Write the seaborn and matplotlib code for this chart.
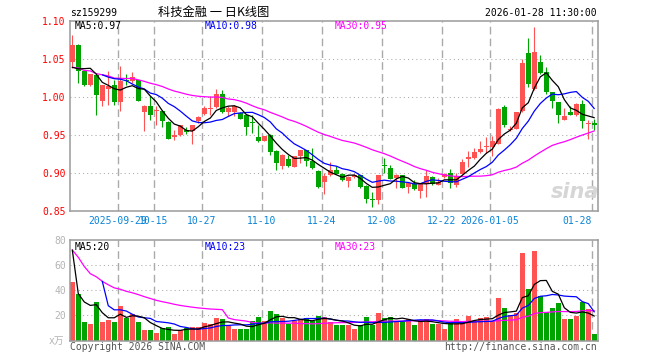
import numpy as np
import pandas as pd
import matplotlib
matplotlib.use("Agg")
import matplotlib.pyplot as plt
import seaborn as sns

# ---------------- data ----------------
tick_labels = ["2025-09-29", "10-15", "10-27", "11-10", "11-24", "12-08", "12-22", "2026-01-05", "01-28"]
tick_index = [8, 14, 22, 32, 42, 52, 62, 70, 87]

open_ = [1.0457, 1.0689, 1.0338, 1.0154, 1.0294, 0.9943, 1.0106, 1.0163, 0.9935, 1.0229,
         1.0215, 1.0224, 0.9803, 0.9886, 0.9816, 0.9820, 0.9671, 0.9470, 0.9505, 0.9570,
         0.9557, 0.9680, 0.9777, 0.9847, 0.9869, 1.0044, 0.9799, 0.9799, 0.9790, 0.9768,
         0.9667, 0.9479, 0.9430, 0.9505, 0.9294, 0.9101, 0.9185, 0.9088, 0.9229, 0.9299,
         0.9163, 0.9031, 0.8890, 0.8978, 0.9040, 0.8996, 0.8900, 0.8948, 0.8978, 0.8838,
         0.8667, 0.8650, 0.9110, 0.9066, 0.8943, 0.8974, 0.8816, 0.8864, 0.8772, 0.8855,
         0.8952, 0.8847, 0.8948, 0.9000, 0.8851, 0.8992, 0.9189, 0.9198, 0.9285, 0.9343,
         0.9351, 0.9386, 0.9873, 0.9562, 0.9584, 0.9812, 1.0584, 1.0106, 1.0465, 1.0334,
         1.0066, 0.9935, 0.9702, 0.9803, 0.9764, 0.9913, 0.9641, 0.9654]
high = [1.0821, 1.0700, 1.0360, 1.0310, 1.0316, 1.0160, 1.0338, 1.0229, 1.0413, 1.0303,
        1.0329, 1.0230, 0.9890, 1.0010, 0.9886, 0.9830, 0.9680, 0.9570, 0.9640, 0.9606,
        0.9640, 0.9750, 0.9886, 1.0018, 1.0110, 1.0097, 0.9886, 0.9890, 0.9800, 0.9770,
        0.9768, 0.9636, 0.9490, 0.9510, 0.9300, 0.9250, 0.9242, 0.9233, 0.9310, 0.9310,
        0.9330, 0.9049, 0.9009, 0.9154, 0.9097, 0.9000, 0.8960, 0.8990, 0.8980, 0.8840,
        0.8759, 0.8980, 0.9202, 0.9106, 0.8990, 0.8980, 0.8880, 0.8913, 0.8870, 0.9049,
        0.8960, 0.8939, 0.9009, 0.9057, 0.9009, 0.9185, 0.9294, 0.9338, 0.9426, 0.9470,
        0.9483, 0.9851, 0.9900, 0.9623, 0.9810, 1.0505, 1.0772, 1.0921, 1.0557, 1.0391,
        1.0070, 0.9940, 0.9856, 0.9878, 0.9926, 0.9965, 0.9702, 0.9711]
low = [1.0382, 1.0185, 1.0141, 1.0150, 0.9768, 0.9886, 0.9900, 0.9900, 0.9812, 1.0163,
       1.0185, 0.9943, 0.9557, 0.9693, 0.9632, 0.9614, 0.9450, 0.9439, 0.9483, 0.9518,
       0.9386, 0.9658, 0.9770, 0.9768, 0.9860, 0.9790, 0.9755, 0.9746, 0.9710, 0.9496,
       0.9527, 0.9404, 0.9420, 0.9242, 0.9036, 0.9057, 0.9084, 0.9080, 0.9141, 0.9101,
       0.9062, 0.8810, 0.8724, 0.8970, 0.8990, 0.8895, 0.8825, 0.8940, 0.8812, 0.8614,
       0.8562, 0.8597, 0.9000, 0.8920, 0.8812, 0.8803, 0.8746, 0.8780, 0.8676, 0.8689,
       0.8850, 0.8840, 0.8940, 0.8803, 0.8825, 0.8990, 0.9088, 0.9190, 0.9272, 0.9263,
       0.9220, 0.9380, 0.9601, 0.9550, 0.9580, 0.9810, 1.0132, 1.0088, 1.0310, 1.0040,
       0.9856, 0.9658, 0.9700, 0.9760, 0.9755, 0.9593, 0.9448, 0.9570]
close = [1.0689, 1.0338, 1.0154, 1.0303, 1.0022, 1.0154, 1.0140, 0.9930, 1.0215, 1.0207,
         1.0259, 0.9952, 0.9886, 0.9768, 0.9825, 0.9680, 0.9452, 0.9505, 0.9632, 0.9544,
         0.9632, 0.9742, 0.9851, 0.9856, 1.0044, 0.9799, 0.9856, 0.9878, 0.9715, 0.9606,
         0.9654, 0.9430, 0.9483, 0.9277, 0.9132, 0.9242, 0.9101, 0.9220, 0.9299, 0.9167,
         0.9075, 0.8816, 0.8970, 0.9044, 0.8996, 0.8908, 0.8952, 0.8983, 0.8825, 0.8663,
         0.8650, 0.8978, 0.9093, 0.8930, 0.8978, 0.8812, 0.8873, 0.8790, 0.8864, 0.8965,
         0.8855, 0.8890, 0.8992, 0.8868, 0.8961, 0.9154, 0.9207, 0.9277, 0.9320, 0.9351,
         0.9426, 0.9843, 0.9636, 0.9575, 0.9803, 1.0443, 1.0176, 1.0593, 1.0316, 1.0070,
         0.9943, 0.9759, 0.9750, 0.9768, 0.9913, 0.9680, 0.9650, 0.9636]
volume = [46.6, 36.8, 15.0, 13.4, 30.8, 15.0, 16.6, 15.0, 27.6, 18.2,
          21.3, 15.0, 8.7, 8.7, 6.1, 10.0, 11.1, 5.5, 8.2, 10.3,
          11.1, 11.1, 14.2, 13.4, 17.9, 17.4, 11.6, 9.5, 9.5, 9.5,
          15.8, 18.7, 15.5, 23.4, 21.1, 17.9, 13.4, 15.5, 16.8, 17.6,
          15.5, 19.5, 18.7, 15.0, 12.4, 12.4, 12.4, 9.2, 12.4, 18.7,
          12.4, 21.8, 17.9, 18.7, 15.5, 15.5, 17.1, 12.4, 15.5, 17.1,
          13.2, 13.2, 9.2, 13.9, 17.1, 13.9, 19.5, 15.5, 17.9, 18.7,
          15.5, 33.7, 25.8, 20.3, 21.8, 69.2, 40.8, 70.8, 35.3, 22.6,
          25.8, 29.7, 17.1, 17.1, 19.7, 30.5, 25.0, 5.3]
# sessions before the visible window (only feed the moving averages)
prior_close = [1.044, 1.014, 1.028, 1.041]
prior_volume = [210.0, 48.0, 27.0, 28.0]

ma_labels_price = ["MA5:0.97", "MA10:0.98", "MA30:0.95"]
ma_labels_vol = ["MA5:20", "MA10:23", "MA30:23"]
price_ticks = [0.85, 0.90, 0.95, 1.00, 1.05, 1.10]
vol_ticks = [20, 40, 60, 80]

# ---------------- style ----------------
sns.set_theme(style="white")
MONO = ["DejaVu Sans Mono"]
plt.rcParams["font.family"] = ["DejaVu Sans Mono", "Noto Sans CJK SC"]
plt.rcParams["axes.unicode_minus"] = False

RED = "#ff5252"
GREEN = "#00a400"
GRID = "#aaaaaa"
FRAME = "#9a9a9a"

n = len(close)
x = np.arange(n)
o = np.array(open_); c = np.array(close); h = np.array(high); l = np.array(low)
v = np.array(volume)
up = c >= o
colors = np.where(up, RED, GREEN)

# moving averages
npre = len(prior_close)
cs = pd.Series(list(prior_close) + list(close))
vs = pd.Series(list(prior_volume) + list(volume))
ma = {
    "p5": cs.rolling(5).mean().values[npre:],
    "p10": cs.rolling(10).mean().values[npre:],
    "p30": cs.rolling(30, min_periods=1).mean().values[npre:],
    "v5": vs.rolling(5).mean().values[npre:],
    "v10": vs.rolling(10).mean().values[npre:],
    "v30": vs.rolling(30, min_periods=1).mean().values[npre:],
}

W, H = 660, 360
fig = plt.figure(figsize=(W / 100, H / 100), dpi=100)
fig.patch.set_facecolor("white")

def fx(px):
    return px / W

def fy(py):
    return 1 - py / H

L, R = 70.3, 597.5
ax1 = fig.add_axes([fx(L), fy(211.3), fx(R) - fx(L), fy(21) - fy(211.3)])
ax2 = fig.add_axes([fx(L), fy(340.7), fx(R) - fx(L), fy(239.7) - fy(340.7)])
xlim = (-0.33, 87.53)

for ax in (ax1, ax2):
    ax.set_facecolor("white")
    ax.set_xlim(*xlim)
    for s in ax.spines.values():
        s.set_color(FRAME)
        s.set_linewidth(1.1)
    for t in tick_index:
        ax.axvline(t - 0.42, color=GRID, lw=1.0, ls=(0, (5.5, 3)), zorder=0)
    ax.tick_params(length=0)

# ---- price panel ----
ax1.set_ylim(0.85, 1.10)
for yv in price_ticks[1:-1]:
    ax1.axhline(yv, color=GRID, lw=0.75, ls=(0, (1, 3)), zorder=0)

body_bottom = np.minimum(o, c)
body_h = np.maximum(np.abs(c - o), 0.0013)
ax1.vlines(x, l, h, colors=colors, lw=0.8, zorder=2)
ax1.bar(x, body_h, bottom=body_bottom, width=0.86, color=colors, linewidth=0, zorder=3)

dfp = pd.DataFrame({"x": x, "ma5": ma["p5"], "ma10": ma["p10"], "ma30": ma["p30"]})
sns.lineplot(data=dfp, x="x", y="ma30", ax=ax1, color="#ff00ff", lw=0.9, zorder=4)
sns.lineplot(data=dfp, x="x", y="ma10", ax=ax1, color="#0000ff", lw=0.9, zorder=4)
sns.lineplot(data=dfp, x="x", y="ma5", ax=ax1, color="#000000", lw=0.9, zorder=5)
ax1.set_xlabel(""); ax1.set_ylabel("")

ax1.set_yticks(price_ticks)
ax1.set_yticklabels([f"{t:.2f}" for t in price_ticks], color="#ff0000", fontsize=7, family=MONO)
ax1.tick_params(axis="y", pad=3.2)
ax1.set_xticks([t - 0.42 for t in tick_index])
ax1.set_xticklabels(tick_labels, color="#0a84d8", fontsize=7, family=MONO)
ax1.tick_params(axis="x", pad=3.6)
xt = ax1.get_xticklabels()
xt[-1].set_horizontalalignment("right")

ma_cols = ["#000000", "#0000ff", "#ff00ff"]
ma_x = [75, 205, 335]
for txt, col, px in zip(ma_labels_price, ma_cols, ma_x):
    fig.text(fx(px), fy(26), txt, color=col, fontsize=7, family=MONO, ha="left", va="center")

# sina watermark
ax1.text(0.958, 0.10, "sina", transform=ax1.transAxes, color="#d6d6d6", fontsize=15,
         fontweight="bold", style="italic", ha="center", va="center", family=["DejaVu Sans"], zorder=1)

# ---- volume panel ----
ax2.set_ylim(0, 80)
for yv in vol_ticks[:-1]:
    ax2.axhline(yv, color=GRID, lw=0.75, ls=(0, (1, 3)), zorder=0)
ax2.bar(x, v, width=0.86, color=colors, linewidth=0, zorder=2)
dfv = pd.DataFrame({"x": x, "ma5": ma["v5"], "ma10": ma["v10"], "ma30": ma["v30"]})
sns.lineplot(data=dfv, x="x", y="ma30", ax=ax2, color="#ff00ff", lw=0.9, zorder=4)
sns.lineplot(data=dfv, x="x", y="ma10", ax=ax2, color="#0000ff", lw=0.9, zorder=4)
sns.lineplot(data=dfv, x="x", y="ma5", ax=ax2, color="#000000", lw=0.9, zorder=5)
ax2.set_xlabel(""); ax2.set_ylabel("")
ax2.set_xticks([])
ax2.set_yticks(vol_ticks)
ax2.set_yticklabels([str(t) for t in vol_ticks], color="#b4b4b4", fontsize=7, family=MONO)
ax2.tick_params(axis="y", pad=3.2)
for txt, col, px in zip(ma_labels_vol, ma_cols, ma_x):
    fig.text(fx(px), fy(246.5), txt, color=col, fontsize=7, family=MONO, ha="left", va="center")

# ---- header / footer text ----
fig.text(fx(70), fy(12.5), "sz159299", color="#000000", fontsize=7, family=MONO, ha="left", va="center")
fig.text(fx(214), fy(12), "科技金融 一 日K线图", color="#000000", fontsize=8.8,
         family=["Noto Sans CJK SC", "DejaVu Sans"], ha="center", va="center")
fig.text(fx(597), fy(12.5), "2026-01-28 11:30:00", color="#000000", fontsize=7, family=MONO,
         ha="right", va="center")
fig.text(fx(64), fy(341), "x万", color="#b4b4b4", fontsize=7,
         family=["DejaVu Sans Mono", "Noto Sans CJK SC"], ha="right", va="center")
fig.text(fx(70), fy(347), "Copyright 2026 SINA.COM", color="#555555", fontsize=7, family=MONO,
         ha="left", va="center")
fig.text(fx(597), fy(347), "http://finance.sina.com.cn", color="#555555", fontsize=7, family=MONO,
         ha="right", va="center")

fig.savefig("out.png", dpi=100, facecolor="white")
